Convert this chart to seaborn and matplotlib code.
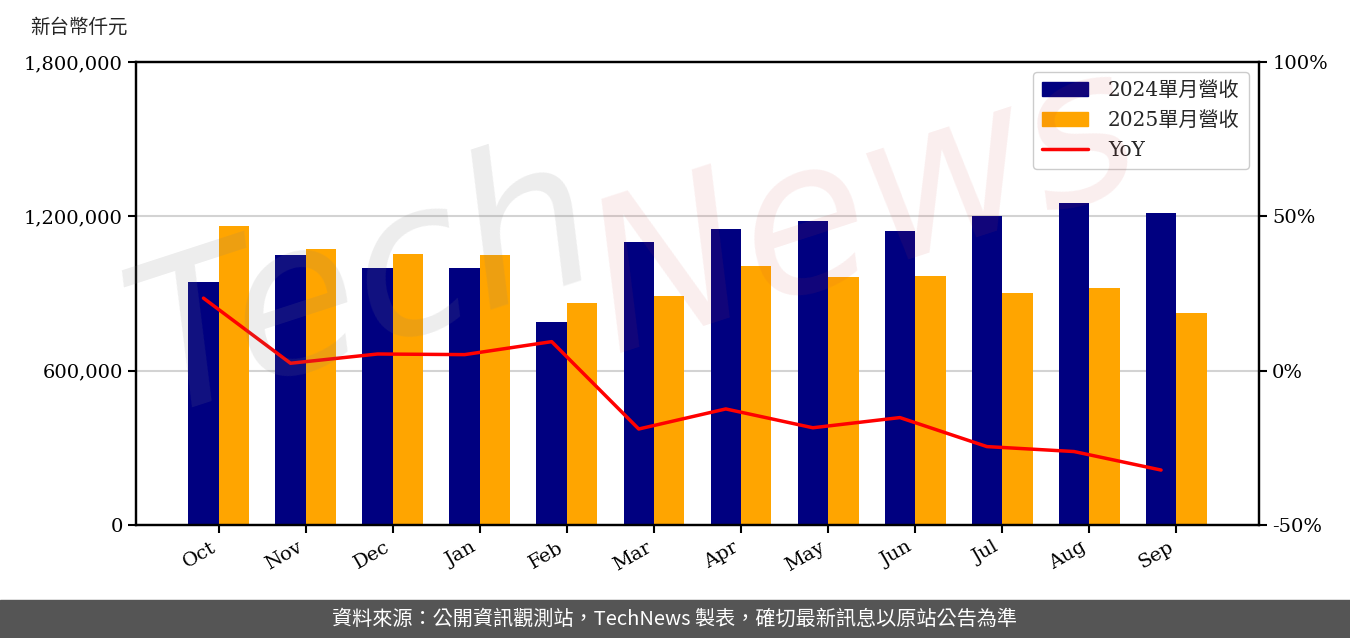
import numpy as np
import pandas as pd
import matplotlib
matplotlib.use("Agg")
import matplotlib.pyplot as plt
import seaborn as sns
from matplotlib.patches import Rectangle, Patch
from matplotlib.lines import Line2D
from matplotlib.ticker import FuncFormatter

# monthly revenue (NT$ thousand)
months = ["Oct", "Nov", "Dec", "Jan", "Feb", "Mar", "Apr", "May", "Jun", "Jul", "Aug", "Sep"]
rev_2024 = [944700, 1049700, 999100, 999100, 789200, 1100200, 1150800, 1181900, 1143000, 1202500, 1251800, 1213000]
rev_2025 = [1162400, 1073000, 1053600, 1049700, 863100, 890300, 1006900, 964100, 968000, 901900, 921400, 824200]
yoy = [23.5, 2.4, 5.4, 5.2, 9.4, -18.9, -12.4, -18.5, -15.2, -24.6, -26.2, -32.2]

series_names = ["2024單月營收", "2025單月營收"]
colors = ["#000080", "#FFA500"]

sns.set_style("white")
plt.rcParams["font.family"] = ["DejaVu Serif", "Noto Sans CJK TC"]

df = pd.DataFrame({
    "month": months * 2,
    "revenue": rev_2024 + rev_2025,
    "series": [series_names[0]] * 12 + [series_names[1]] * 12,
})

fig = plt.figure(figsize=(13.5, 6.38), dpi=100)
ax = fig.add_axes([136 / 1350, 113 / 638, 1123 / 1350, 463 / 638])

sns.barplot(data=df, x="month", y="revenue", hue="series", palette=colors,
            width=0.7, saturation=1, linewidth=0, ax=ax, legend=False)
ax.set_xlim(-0.95, 11.95)
ax.set_ylim(0, 1800000)
ax.set_yticks([0, 600000, 1200000, 1800000])
ax.yaxis.set_major_formatter(FuncFormatter(lambda v, p: f"{int(v):,}"))
ax.set_xlabel("")
ax.set_ylabel("")
ax.set_axisbelow(True)
ax.yaxis.grid(True, color="#d3d3d3", lw=1.5)
ax.xaxis.grid(False)
ax.tick_params(axis="both", direction="out", length=6, width=1.5, labelsize=14,
               left=True, bottom=True, colors="black")
plt.setp(ax.get_xticklabels(), rotation=30, ha="right")

ax2 = ax.twinx()
sns.lineplot(x=np.arange(len(months)) - 0.175, y=yoy, color="red", lw=2.5, ax=ax2)
ax2.set_ylim(-50, 100)
ax2.set_yticks([-50, 0, 50, 100])
ax2.yaxis.set_major_formatter(FuncFormatter(lambda v, p: f"{int(v)}%"))
ax2.tick_params(axis="y", direction="out", length=6, width=1.5, labelsize=14, right=True, colors="black")
ax2.grid(False)
for a in (ax, ax2):
    for s in a.spines.values():
        s.set_color("black")
        s.set_linewidth(1.6)

handles = [Patch(color=colors[0], label=series_names[0]),
           Patch(color=colors[1], label=series_names[1]),
           Line2D([], [], color="red", lw=2.5, label="YoY")]
ax2.legend(handles=handles, loc="upper right", fontsize=14.5, frameon=True,
           edgecolor="#cccccc", framealpha=1, borderpad=0.45, labelspacing=0.55,
           handlelength=2.3, handletextpad=1.0)

fig.text(30 / 1350, 1 - 27 / 638, "新台幣仟元", fontsize=14, va="center", ha="left",
         family=["Noto Sans CJK TC"])

# watermark
fig.text(0.27, 0.55, "Tech", fontsize=150, color="#808080", alpha=0.14, rotation=18,
         ha="center", va="center", fontstyle="italic", family=["DejaVu Sans"], zorder=10)
fig.text(0.64, 0.67, "News", fontsize=150, color="#d04040", alpha=0.09, rotation=18,
         ha="center", va="center", fontstyle="italic", family=["DejaVu Sans"], zorder=10)

# footer band
fig.patches.append(Rectangle((0, 0), 1, 38 / 638, transform=fig.transFigure,
                             color="#555555", zorder=0))
fig.text(0.5, 19 / 638, "資料來源：公開資訊觀測站，TechNews 製表，確切最新訊息以原站公告為準",
         color="white", fontsize=14.5, ha="center", va="center", family=["Noto Sans CJK TC"])

fig.savefig("out.png", dpi=100)
